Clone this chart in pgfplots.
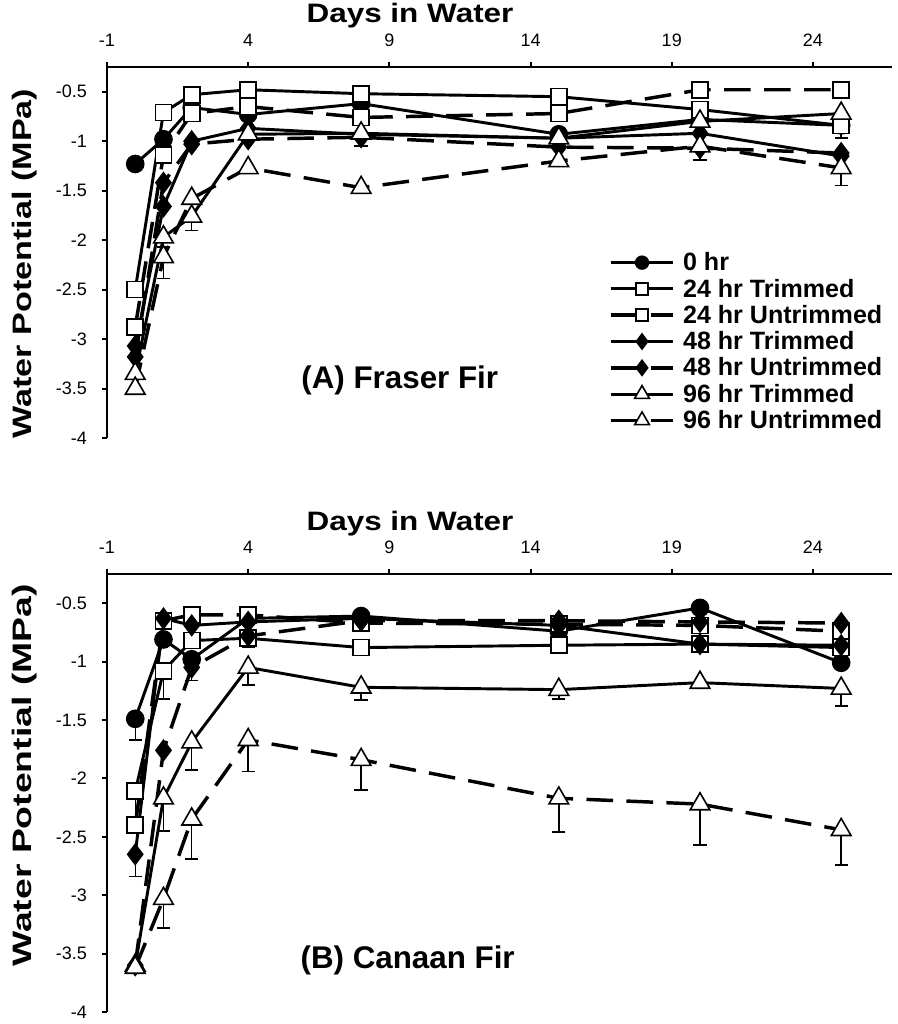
\documentclass[border=0pt]{standalone}
\usepackage{fontspec}
\setmainfont{Liberation Sans}
\usepackage{pgfplots}
\pgfplotsset{compat=1.18}
\begin{document}
\begin{tikzpicture}
\useasboundingbox (0pt,0pt) rectangle (672.75pt,-768pt);
\pgfplotsset{
 panel/.style={
  scale only axis, width=588.75pt,
  xmin=-1, xmax=26.8, ymin=-4, ymax=-0.25,
  axis x line=top, axis y line=left,
  axis line style={-, line width=1.8pt},
  tick align=outside, major tick length=4pt,
  tick style={line width=1.5pt, black},
  xtick={-1,4,9,14,19,24}, xticklabels={-1,4,9,14,19,24},
  ytick={-4,-3.5,-3,-2.5,-2,-1.5,-1,-0.5},
  yticklabels={-4,-3.5,-3,-2.5,-2,-1.5,-1,-0.5},
  ticklabel style={font=\fontsize{13.5}{16}\selectfont},
  xticklabel style={yshift=8pt},
  yticklabel style={xshift=-7.5pt},
  xlabel={Days in Water},
  xlabel style={font=\bfseries\fontsize{20}{24}\selectfont, at={(axis description cs:0.386,1)}, anchor=base, yshift=33pt, xscale=1.18},
  ylabel={Water Potential (MPa)},
  ylabel style={font=\bfseries\fontsize{20}{24}\selectfont, at={(axis description cs:0,0.5)}, anchor=center, yshift=61.5pt},
  clip=false,
 },
 eb/.style={draw=none, forget plot, mark=none,
  error bars/.cd, y dir=minus, y explicit,
  error bar style={line width=1.1pt, solid, black},
  error mark options={rotate=90, mark size=5pt, line width=1.1pt, solid, black}},
 mo/.style={mark options={solid, line width=1.2pt, #1}},
 s0/.style={black, solid, line width=2.2pt, mark=*, mark size=6.4pt, mo={fill=black}},
 s24T/.style={black, solid, line width=2.2pt, mark=square*, mark size=6pt, mo={fill=white}},
 s24U/.style={black, dash pattern=on 20pt off 10pt, line width=2.6pt, mark=square*, mark size=6pt, mo={fill=white}},
 s48T/.style={black, solid, line width=2.2pt, mark=diamond*, mark size=7.5pt, mo={fill=black}},
 s48U/.style={black, dash pattern=on 20pt off 10pt, line width=2.6pt, mark=diamond*, mark size=7.5pt, mo={fill=black}},
 s96T/.style={black, solid, line width=2.2pt, mark=triangle*, mark size=8.5pt, mo={fill=white}},
 s96U/.style={black, dash pattern=on 20pt off 10pt, line width=2.6pt, mark=triangle*, mark size=8.5pt, mo={fill=white}},
}
% ---------------- Panel A ----------------
\begin{axis}[panel, at={(80.25pt,-50.25pt)}, anchor=north west, height=278.25pt,
  ylabel style={at={(axis description cs:0,0.47)}, xscale=1.28},
  legend style={at={(0.634,0.515)}, anchor=north west, draw=none, fill=none,
    font=\bfseries\fontsize{18.8}{21}\selectfont, row sep=0.6pt, column sep=4pt, cells={anchor=west}},
  legend image code/.code={\draw[mark repeat=2,mark phase=2,#1,every mark/.append style={scale=0.75}] plot coordinates {(0pt,0pt)(23.5pt,0pt)(47pt,0pt)};},
]
\addplot[eb] coordinates {(1,-2.17) +- (0,0.22) (25,-1.27) +- (0,0.18)};
\addplot[eb] coordinates {(2,-1.76) +- (0,0.14) (1,-1.97) +- (0,0.1)};
\addplot[eb] coordinates {(8,-0.93) +- (0,0.12) (20,-1.07) +- (0,0.12) (25,-0.84) +- (0,0.13)};
\addplot[s0] coordinates {(0,-1.23)(1,-0.98)(2,-0.66)(4,-0.73)(8,-0.62)(15,-0.93)(20,-0.78)(25,-0.84)};
\addlegendentry{0 hr}
\addplot[s24T] coordinates {(0,-2.5)(1,-0.71)(2,-0.53)(4,-0.48)(8,-0.52)(15,-0.55)(20,-0.68)(25,-0.84)};
\addlegendentry{24 hr Trimmed}
\addplot[s24U] coordinates {(0,-2.88)(1,-1.14)(2,-0.72)(4,-0.65)(8,-0.76)(15,-0.72)(20,-0.48)(25,-0.48)};
\addlegendentry{24 hr Untrimmed}
\addplot[s48T] coordinates {(0,-3.07)(1,-1.66)(2,-1.0)(4,-0.87)(8,-0.93)(15,-0.97)(20,-0.92)(25,-1.15)};
\addlegendentry{48 hr Trimmed}
\addplot[s48U] coordinates {(0,-3.18)(1,-1.42)(2,-1.03)(4,-0.98)(8,-0.96)(15,-1.06)(20,-1.07)(25,-1.12)};
\addlegendentry{48 hr Untrimmed}
\addplot[s96T] coordinates {(0,-3.35)(1,-1.97)(2,-1.76)(4,-0.93)(8,-0.92)(15,-0.97)(20,-0.8)(25,-0.72)};
\addlegendentry{96 hr Trimmed}
\addplot[s96U] coordinates {(0,-3.5)(1,-2.17)(2,-1.58)(4,-1.27)(8,-1.47)(15,-1.2)(20,-1.05)(25,-1.27)};
\addlegendentry{96 hr Untrimmed}
\node[font=\bfseries\fontsize{23.5}{27}\selectfont] at (rel axis cs:0.373,0.156) {(A) Fraser Fir};
\end{axis}
% ---------------- Panel B ----------------
\begin{axis}[panel, at={(80.25pt,-430.5pt)}, anchor=north west, height=328.5pt,
  ylabel style={at={(axis description cs:0,0.54)}, xscale=1.4}]
\addplot[eb] coordinates {(0,-1.49) +- (0,0.18) (0,-2.11) +- (0,0.24) (0,-2.65) +- (0,0.19)};
\addplot[eb] coordinates {(1,-1.08) +- (0,0.24) (8,-0.88) +- (0,0.06) (15,-0.69) +- (0,0.24)};
\addplot[eb] coordinates {(2,-1.05) +- (0,0.11) (4,-0.78) +- (0,0.1)};
\addplot[eb] coordinates {(1,-2.17) +- (0,0.28) (2,-1.69) +- (0,0.24) (4,-1.05) +- (0,0.15) (8,-1.22) +- (0,0.11) (15,-1.24) +- (0,0.08) (25,-1.23) +- (0,0.15)};
\addplot[eb] coordinates {(1,-3.03) +- (0,0.25) (2,-2.35) +- (0,0.34) (4,-1.67) +- (0,0.27) (8,-1.84) +- (0,0.26) (15,-2.17) +- (0,0.29) (20,-2.22) +- (0,0.35) (25,-2.44) +- (0,0.3)};
\addplot[s0] coordinates {(0,-1.49)(1,-0.81)(2,-0.98)(4,-0.63)(8,-0.61)(15,-0.74)(20,-0.54)(25,-1.01)};
\addplot[s24T] coordinates {(0,-2.11)(1,-1.08)(2,-0.82)(4,-0.80)(8,-0.88)(15,-0.86)(20,-0.85)(25,-0.88)};
\addplot[s24U] coordinates {(0,-2.4)(1,-0.65)(2,-0.6)(4,-0.6)(8,-0.67)(15,-0.68)(20,-0.69)(25,-0.74)};
\addplot[s48T] coordinates {(0,-2.65)(1,-0.63)(2,-0.69)(4,-0.66)(8,-0.63)(15,-0.69)(20,-0.85)(25,-0.86)};
\addplot[s48U] coordinates {(0,-3.6)(1,-1.76)(2,-1.05)(4,-0.78)(8,-0.65)(15,-0.65)(20,-0.66)(25,-0.67)};
\addplot[s96T] coordinates {(0,-3.6)(1,-2.17)(2,-1.69)(4,-1.05)(8,-1.22)(15,-1.24)(20,-1.18)(25,-1.23)};
\addplot[s96U] coordinates {(0,-3.62)(1,-3.03)(2,-2.35)(4,-1.67)(8,-1.84)(15,-2.17)(20,-2.22)(25,-2.44)};
\node[font=\bfseries\fontsize{23.5}{27}\selectfont] at (rel axis cs:0.383,0.117) {(B) Canaan Fir};
\end{axis}
\end{tikzpicture}
\end{document}
